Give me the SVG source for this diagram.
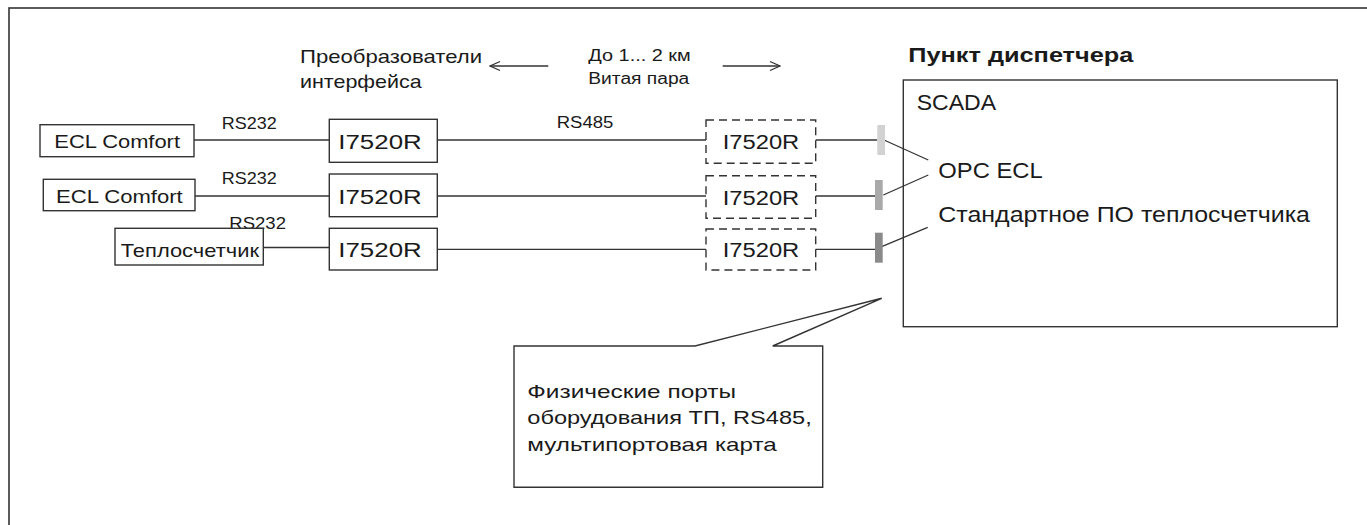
<svg xmlns="http://www.w3.org/2000/svg" width="1367" height="525" viewBox="0 0 1367 525">
<style>
text{font-family:"Liberation Sans",Arial,sans-serif;fill:#1a1a1a}
.box{fill:#fff;stroke:#333;stroke-width:1.4}
.dash{fill:#fff;stroke:#333;stroke-width:1.4;stroke-dasharray:8 5}
.ln{stroke:#333;stroke-width:1.3;fill:none}
.t16{font-size:16px}
.t17{font-size:17px}
.t18{font-size:18.5px}
.t19{font-size:19px}
.t20{font-size:20px}
.t21{font-size:21.5px}
</style>
<defs>
<marker id="chev" viewBox="-12 -6 13 12" markerWidth="13" markerHeight="12" refX="0" refY="0" orient="auto" markerUnits="userSpaceOnUse">
<path d="M-10,-4.5 L0,0 L-10,4.5" fill="none" stroke="#333" stroke-width="1.3"/>
</marker>
</defs>
<rect x="9" y="8" width="1400" height="600" fill="#fff" stroke="#333" stroke-width="1.6"/>

<g id="labels">
<text class="t19" x="300" y="63" textLength="182" lengthAdjust="spacingAndGlyphs">Преобразователи</text>
<text class="t19" x="300" y="88" textLength="121.7" lengthAdjust="spacingAndGlyphs">интерфейса</text>
<text class="t16" x="588.3" y="60.7" textLength="102.4" lengthAdjust="spacingAndGlyphs">До 1... 2 км</text>
<text class="t16" x="588.3" y="84" textLength="101" lengthAdjust="spacingAndGlyphs">Витая пара</text>
<text x="908.3" y="61.7" font-size="20.5" font-weight="bold" textLength="225" lengthAdjust="spacingAndGlyphs">Пункт диспетчера</text>
<text class="t17" x="221.7" y="129.3" textLength="55" lengthAdjust="spacingAndGlyphs">RS232</text>
<text class="t17" x="221.7" y="184" textLength="55" lengthAdjust="spacingAndGlyphs">RS232</text>
<text class="t17" x="229.3" y="229.3" textLength="56.7" lengthAdjust="spacingAndGlyphs">RS232</text>
<text class="t16" x="556.7" y="128.3" textLength="56.6" lengthAdjust="spacingAndGlyphs">RS485</text>
</g>

<g id="ecl1"><rect class="box" x="40" y="124.7" width="154" height="32"/><text class="t18" x="54.3" y="148.3" textLength="125.7" lengthAdjust="spacingAndGlyphs">ECL Comfort</text></g>
<g id="ecl2"><rect class="box" x="43.3" y="179.3" width="151.7" height="31.4"/><text class="t18" x="56" y="203.3" textLength="126.7" lengthAdjust="spacingAndGlyphs">ECL Comfort</text></g>
<g id="heat"><rect class="box" x="115" y="228.3" width="148.3" height="36.7"/><text class="t18" x="120.7" y="256.7" textLength="138.3" lengthAdjust="spacingAndGlyphs">Теплосчетчик</text></g>

<g id="conv1"><rect class="box" x="329.3" y="119.3" width="108" height="43"/><text class="t20" x="338.3" y="149.3" textLength="83.4" lengthAdjust="spacingAndGlyphs">I7520R</text></g>
<g id="conv2"><rect class="box" x="329.3" y="174" width="108" height="42.7"/><text class="t20" x="338.3" y="204" textLength="83.4" lengthAdjust="spacingAndGlyphs">I7520R</text></g>
<g id="conv3"><rect class="box" x="329.3" y="228.3" width="108" height="41.7"/><text class="t20" x="338.3" y="257.3" textLength="83.4" lengthAdjust="spacingAndGlyphs">I7520R</text></g>

<g id="rconv1"><rect class="dash" x="706" y="120" width="109.7" height="43.3"/><text class="t20" x="722.7" y="149.3" textLength="76.6" lengthAdjust="spacingAndGlyphs">I7520R</text></g>
<g id="rconv2"><rect class="dash" x="706" y="175.7" width="109.7" height="42.6"/><text class="t20" x="722.7" y="205" textLength="76.6" lengthAdjust="spacingAndGlyphs">I7520R</text></g>
<g id="rconv3"><rect class="dash" x="706" y="229" width="109.7" height="41"/><text class="t20" x="722.7" y="256.7" textLength="76.6" lengthAdjust="spacingAndGlyphs">I7520R</text></g>

<g id="scada">
<rect class="box" x="903.3" y="80" width="434" height="246.7"/>
<text class="t21" x="916.7" y="110" textLength="79.3" lengthAdjust="spacingAndGlyphs">SCADA</text>
<text class="t21" x="938.3" y="177.7" textLength="104.4" lengthAdjust="spacingAndGlyphs">OPC ECL</text>
<text class="t21" x="938.3" y="221.7" textLength="371.7" lengthAdjust="spacingAndGlyphs">Стандартное ПО теплосчетчика</text>
</g>

<g id="callout">
<path class="box" d="M514,346 H695 L881.7,298.3 L772.7,346 H822.7 V487.3 H514 Z"/>
<text class="t18" x="527.3" y="398.3" textLength="208.7" lengthAdjust="spacingAndGlyphs">Физические порты</text>
<text class="t18" x="527.3" y="424" textLength="284.4" lengthAdjust="spacingAndGlyphs">оборудования ТП, RS485,</text>
<text class="t18" x="527.3" y="450.5" textLength="249.4" lengthAdjust="spacingAndGlyphs">мультипортовая карта</text>
</g>

<g id="connectors">
<line class="ln" x1="548.3" y1="66" x2="490" y2="66" marker-end="url(#chev)"/>
<line class="ln" x1="722.7" y1="66" x2="780" y2="66" marker-end="url(#chev)"/>
<line class="ln" x1="194" y1="140" x2="329.3" y2="140"/>
<line class="ln" x1="437.3" y1="140" x2="706" y2="140"/>
<line class="ln" x1="815.7" y1="140" x2="877.3" y2="140"/>
<line class="ln" x1="195" y1="196" x2="329.3" y2="196"/>
<line class="ln" x1="437.3" y1="196" x2="706" y2="196"/>
<line class="ln" x1="815.7" y1="196" x2="875" y2="196"/>
<line class="ln" x1="263.3" y1="247.5" x2="329.3" y2="247.5"/>
<line class="ln" x1="437.3" y1="249.3" x2="706" y2="249.3"/>
<line class="ln" x1="815.7" y1="249.3" x2="875" y2="249.3"/>
<line class="ln" x1="884" y1="140" x2="928.3" y2="160"/>
<line class="ln" x1="883.3" y1="195" x2="928.3" y2="175"/>
<line class="ln" x1="881.7" y1="246.7" x2="927.7" y2="227.3"/>
</g>

<g id="ports">
<rect x="877.3" y="125" width="7.7" height="30" fill="#d2d2d2"/>
<rect x="875" y="180" width="7.7" height="30" fill="#a9a9a9"/>
<rect x="875" y="232.7" width="7.7" height="30" fill="#8a8a8a"/>
</g>
</svg>
